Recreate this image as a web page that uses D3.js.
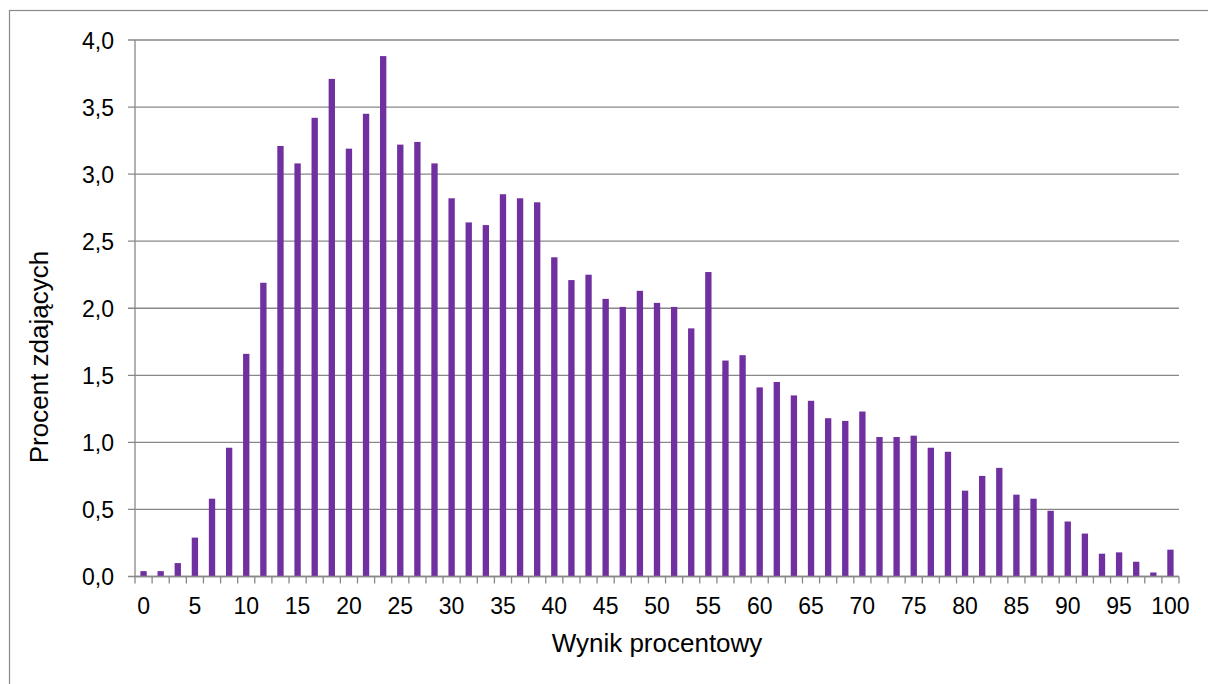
<!DOCTYPE html>
<html>
<head>
<meta charset="utf-8">
<script src="https://cdn.jsdelivr.net/npm/d3@7"></script>
<style>
  html, body { margin: 0; padding: 0; background: #ffffff; }
  svg { display: block; }
  text { font-family: Arial, "Liberation Sans", sans-serif; fill: #000; }
</style>
</head>
<body>
<svg id="chart" width="1208" height="684"></svg>
<script>
// Score categories (percentage score), one bar each
const scores = [
  0, 1.7, 3.3, 5, 6.7, 8.3, 10, 11.7, 13.3, 15, 16.7, 18.3, 20, 21.7, 23.3, 25,
  26.7, 28.3, 30, 31.7, 33.3, 35, 36.7, 38.3, 40, 41.7, 43.3, 45, 46.7, 48.3, 50,
  51.7, 53.3, 55, 56.7, 58.3, 60, 61.7, 63.3, 65, 66.7, 68.3, 70, 71.7, 73.3, 75,
  76.7, 78.3, 80, 81.7, 83.3, 85, 86.7, 88.3, 90, 91.7, 93.3, 95, 96.7, 98.3, 100
];
// Percentage of test takers per score
const percents = [
  0.04, 0.04, 0.10, 0.29, 0.58, 0.96, 1.66, 2.19, 3.21, 3.08, 3.42, 3.71, 3.19, 3.45, 3.88, 3.22,
  3.24, 3.08, 2.82, 2.64, 2.62, 2.85, 2.82, 2.79, 2.38, 2.21, 2.25, 2.07, 2.01, 2.13, 2.04,
  2.01, 1.85, 2.27, 1.61, 1.65, 1.41, 1.45, 1.35, 1.31, 1.18, 1.16, 1.23, 1.04, 1.04, 1.05,
  0.96, 0.93, 0.64, 0.75, 0.81, 0.61, 0.58, 0.49, 0.41, 0.32, 0.17, 0.18, 0.11, 0.03, 0.20
];
// Labelled x ticks
const xTickLabels = [0, 5, 10, 15, 20, 25, 30, 35, 40, 45, 50, 55, 60, 65, 70, 75, 80, 85, 90, 95, 100];
// y ticks
const yTicks = [0, 0.5, 1, 1.5, 2, 2.5, 3, 3.5, 4];

const xTitle = "Wynik procentowy";
const yTitle = "Procent zdających";

(function () {
const svg = d3.select("#chart");
const pL = 135, pR = 1179, pT = 40, pB = 576.5;
const gridColor = "#888888";

// outer chart border
svg.append("rect")
  .attr("x", 9.5).attr("y", 10.5)
  .attr("width", 1230).attr("height", 700)
  .attr("fill", "none").attr("stroke", "#898989").attr("stroke-width", 1.2);

const x = d3.scaleBand().domain(scores.map((d, i) => i)).range([pL, pR]).padding(0);
const y = d3.scaleLinear().domain([0, 4]).range([pB, pT]);

// gridlines + y ticks
const fmt = v => d3.format(".1f")(v).replace(".", ",");
const gy = svg.append("g");
yTicks.forEach(t => {
  gy.append("line")
    .attr("x1", pL - 7).attr("x2", pR)
    .attr("y1", y(t)).attr("y2", y(t))
    .attr("stroke", gridColor).attr("stroke-width", 1.3);
  gy.append("text")
    .attr("x", 114).attr("y", y(t) + 8.5)
    .attr("text-anchor", "end").attr("font-size", 23)
    .text(fmt(t));
});

// y axis line
svg.append("line")
  .attr("x1", pL).attr("x2", pL)
  .attr("y1", pT).attr("y2", pB)
  .attr("stroke", gridColor).attr("stroke-width", 1.3);

// bars
const barW = x.bandwidth() * 0.37;
svg.append("g").selectAll("rect")
  .data(percents)
  .join("rect")
  .attr("x", (d, i) => x(i) + (x.bandwidth() - barW) / 2)
  .attr("y", d => y(d))
  .attr("width", barW)
  .attr("height", d => y(0) - y(d))
  .attr("fill", "#7030A0");

// x axis line and ticks at category boundaries
svg.append("line")
  .attr("x1", pL).attr("x2", pR)
  .attr("y1", y(0)).attr("y2", y(0))
  .attr("stroke", gridColor).attr("stroke-width", 1.3);
const bounds = scores.map((d, i) => x(i)).concat([pR]);
svg.append("g").selectAll("line")
  .data(bounds)
  .join("line")
  .attr("x1", d => d).attr("x2", d => d)
  .attr("y1", y(0)).attr("y2", y(0) + 7)
  .attr("stroke", gridColor).attr("stroke-width", 1.3);

// x tick labels (only on labelled categories)
svg.append("g").selectAll("text")
  .data(xTickLabels)
  .join("text")
  .attr("x", d => x(scores.indexOf(d)) + x.bandwidth() / 2)
  .attr("y", 614)
  .attr("text-anchor", "middle").attr("font-size", 23)
  .text(d => d);

// axis titles
svg.append("text")
  .attr("x", (pL + pR) / 2).attr("y", 652)
  .attr("text-anchor", "middle").attr("font-size", 26)
  .text(xTitle);
svg.append("text")
  .attr("transform", "translate(48,357) rotate(-90)")
  .attr("text-anchor", "middle").attr("font-size", 26)
  .text(yTitle);
})();
</script>
</body>
</html>
